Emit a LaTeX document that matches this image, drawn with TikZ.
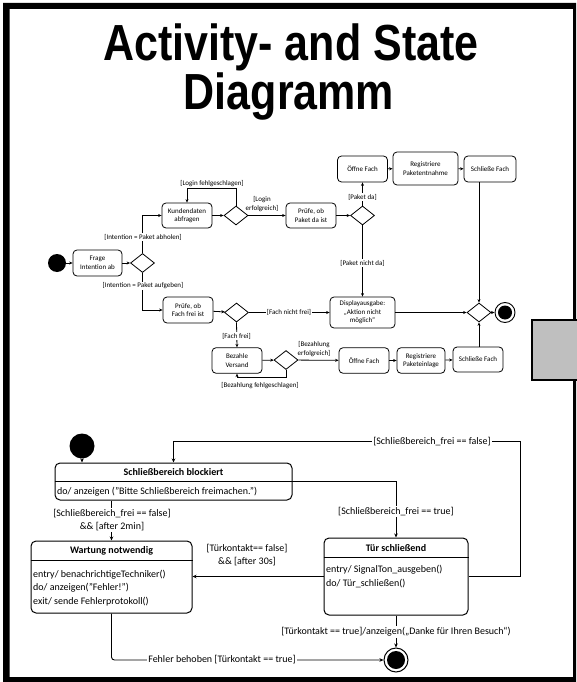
\documentclass[tikz,border=0pt]{standalone}
\usepackage{fontspec}
\setmainfont{Carlito}
\newfontfamily\titlefont{Liberation Sans}
\usetikzlibrary{shapes.geometric,arrows.meta}
\definecolor{boxgray}{RGB}{191,191,191}

\begin{document}
\begin{tikzpicture}[x=1pt,y=-1pt,
  every node/.style={inner sep=0pt},
  conn/.style={line width=0.8pt},
  arr/.style={conn,-{Stealth[length=3.5pt,width=3pt]}},
  sarr/.style={line width=0.9pt,-{Stealth[length=4pt,width=3.5pt]}},
  actfont/.style={font=\fontsize{7}{8.6}\selectfont},
  actbox/.style={draw, line width=0.8pt, rounded corners=4pt, align=center, actfont},
  dec/.style={draw, diamond, line width=0.8pt, minimum width=24pt, minimum height=19pt},
  glabel/.style={fill=white, inner sep=1pt, align=center, actfont},
  stfont/.style={font=\fontsize{10}{13.7}\selectfont},
  stbox/.style={draw, line width=1pt, rounded corners=5pt},
  stlabel/.style={fill=white, inner sep=1pt, align=center, stfont},
  titlestyle/.style={anchor=base, font=\titlefont\bfseries\fontsize{43}{47}\selectfont},
]
\useasboundingbox (0,0) rectangle (576,682);

% outer frame
\fill[black, even odd rule] (3,3) rectangle (576,682) (9.5,9) rectangle (573,677);

% title
\node[titlestyle] (title1) at (291,61) {\scalebox{1}[1.18]{Activity- and State}};
\node[titlestyle] (title2) at (289,110) {\scalebox{1}[1.18]{Diagramm}};

% side tab
\draw[line width=1.5pt, fill=boxgray] (532,320) rectangle (590,380);

% ---------------- activity diagram ----------------
\node[circle, fill=black, minimum size=18pt] (init) at (57,263) {};
\node[actbox, minimum width=49pt, minimum height=26pt] (frage) at (97.5,263) {Frage\\Intention ab};
\node[dec] (d1) at (142.5,263) {};
\node[actbox, minimum width=50pt, minimum height=25pt] (kunden) at (187,215.5) {Kundendaten\\abfragen};
\node[dec] (d2) at (236,215.5) {};
\node[actbox, minimum width=50pt, minimum height=25pt] (pruefpaket) at (311,215.5) {Prüfe, ob\\Paket da ist};
\node[dec] (d3) at (362.5,215.5) {};
\node[actbox, minimum width=50pt, minimum height=26pt] (oeffne1) at (362.5,169) {Öffne Fach};
\node[actbox, minimum width=65pt, minimum height=33pt] (regentn) at (425.5,168.5) {Registriere\\Paketentnahme};
\node[actbox, minimum width=52pt, minimum height=26pt] (schliess1) at (490,169) {Schließe Fach};
\node[actbox, minimum width=50pt, minimum height=26pt] (pruefFach) at (188,310) {Prüfe, ob\\Fach frei ist};
\node[dec] (d4) at (236.5,312.5) {};
\node[actbox, minimum width=65pt, minimum height=31pt] (display) at (362.5,312.5) {Displayausgabe:\\„Aktion nicht\\möglich“};
\node[actbox, minimum width=50pt, minimum height=25.5pt] (bezahle) at (237,360.5) {Bezahle\\Versand};
\node[dec] (d5) at (286,360) {};
\node[actbox, minimum width=50pt, minimum height=25.5pt] (oeffne2) at (364,360.5) {Öffne Fach};
\node[actbox, minimum width=48pt, minimum height=25.5pt] (regeinl) at (421,360.5) {Registriere\\Paketeinlage};
\node[actbox, minimum width=50pt, minimum height=25pt] (schliess2) at (478,359.5) {Schließe Fach};
\node[dec] (d6) at (479,312.5) {};
\node[circle, draw, line width=0.9pt, minimum size=20pt,
  path picture={\fill[black] (path picture bounding box.center) circle (7pt);}] (final) at (505,312.5) {};

\draw[arr] (init) -- (frage);
\draw[arr] (frage) -- (d1);
\draw[arr] (d1.north) |- (kunden.west);
\draw[arr] (kunden) -- (d2);
\draw[arr] (d2.north) -- ++(0,-17) -| (kunden.north);
\draw[arr] (d2) -- (pruefpaket);
\draw[arr] (pruefpaket) -- (d3);
\draw[arr] (d3.north) -- (oeffne1.south);
\draw[arr] (oeffne1) -- (regentn);
\draw[arr] (regentn) -- (schliess1);
\draw[arr] (d6.north |- schliess1.south) -- (d6.north);
\draw[arr] (d3.south) -- (display.north);
\draw[arr] (d1.south) |- (pruefFach.west);
\draw[arr] (pruefFach) -- (d4);
\draw[arr] (d4) -- (display);
\draw[arr] (display) -- (d6);
\draw[arr] (d4.south) -- (bezahle.north);
\draw[arr] (bezahle) -- (d5);
\draw[arr] (d5.south) -- ++(0,7) -| (bezahle.south);
\draw[arr] (d5) -- (oeffne2);
\draw[arr] (oeffne2) -- (regeinl);
\draw[arr] (regeinl) -- (schliess2);
\draw[arr] (d6.south |- schliess2.north) -- (d6.south);
\draw[arr] (d6) -- (final);

\node[glabel] (l1) at (143,237) {[Intention = Paket abholen]};
\node[glabel] (l2) at (143,286) {[Intention = Paket aufgeben]};
\node[glabel, anchor=south] (l3) at (212,187.5) {[Login fehlgeschlagen]};
\node[glabel, anchor=south, fill=none] (l4) at (262,213) {[Login\\erfolgreich]};
\node[glabel] (l5) at (362.5,197) {[Paket da]};
\node[glabel] (l6) at (362.5,263) {[Paket nicht da]};
\node[glabel] (l7) at (289,312.5) {[Fach nicht frei]};
\node[glabel] (l8) at (236.5,336) {[Fach frei]};
\node[glabel] (l9) at (260,386) {[Bezahlung fehlgeschlagen]};
\node[glabel, anchor=south, fill=none] (l10) at (314,357.5) {[Bezahlung\\erfolgreich]};

% ---------------- state diagram ----------------
\node[circle, fill=black, minimum size=25pt] (init2) at (82,446) {};
\node[stbox, minimum width=237pt, minimum height=37pt] (sb) at (173.5,481.5) {};
\draw[line width=0.9pt] ([yshift=-19pt]sb.north west) -- ([yshift=-19pt]sb.north east);
\node[stfont, font=\bfseries\fontsize{10}{12}\selectfont] (sbT) at (173.5,472.5) {Schließbereich blockiert};
\node[stfont, anchor=west] (sbB) at (57,491.5) {do/ anzeigen ("Bitte Schließbereich freimachen.")};

\node[stbox, minimum width=161pt, minimum height=72pt] (wart) at (111.5,577) {};
\draw[line width=0.9pt] ([yshift=-20pt]wart.north west) -- ([yshift=-20pt]wart.north east);
\node[font=\bfseries\fontsize{10}{12}\selectfont] (wartT) at (111.5,551) {Wartung notwendig};
\node[stfont, anchor=west, align=left] (wartB) at (33,588) {entry/ benachrichtigeTechniker()\\do/ anzeigen("Fehler!")\\exit/ sende Fehlerprotokoll()};

\node[stbox, minimum width=144pt, minimum height=77pt] (tuer) at (396,576.5) {};
\draw[line width=0.9pt] ([yshift=-19.5pt]tuer.north west) -- ([yshift=-19.5pt]tuer.north east);
\node[font=\bfseries\fontsize{10}{12}\selectfont] (tuerT) at (396,548) {Tür schließend};
\node[stfont, anchor=west, align=left] (tuerB) at (326,576.5) {entry/ SignalTon\_ausgeben()\\do/ Tür\_schließen()};

\node[circle, draw, line width=1pt, minimum size=24pt,
  path picture={\fill[black] (path picture bounding box.center) circle (9pt);}] (final2) at (396,660) {};

\coordinate (loopR) at (520,441.7);
\draw[sarr] (init2) -- (init2 |- sb.north);
\draw[sarr] (tuer.east) -| (loopR) -| (sb.north);
\draw[sarr] (sb.east) -| (tuer.north);
\draw[sarr] (sb.south -| wart.north) -- (wart.north);
\draw[sarr] (tuer.west) -- (tuer.west -| wart.east);
\draw[sarr] (tuer.south) -- (final2.north);
\draw[sarr, rounded corners=3pt] (wart.south) |- (final2.west);

\node[stlabel] (s1) at (432,441.7) {[Schließbereich\_frei == false]};
\node[stlabel] (s2) at (396,511.7) {[Schließbereich\_frei == true]};
\node[stlabel] (s3) at (112,520) {[Schließbereich\_frei == false]\\\&\& [after 2min]};
\node[stlabel, fill=none] (s4) at (247,555) {[Türkontakt== false]\\\&\& [after 30s]};
\node[stlabel] (s5) at (396,632) {[Türkontakt == true]/anzeigen(„Danke für Ihren Besuch“)};
\node[stlabel] (s6) at (222,660) {Fehler behoben [Türkontakt == true]};
\end{tikzpicture}
\end{document}
